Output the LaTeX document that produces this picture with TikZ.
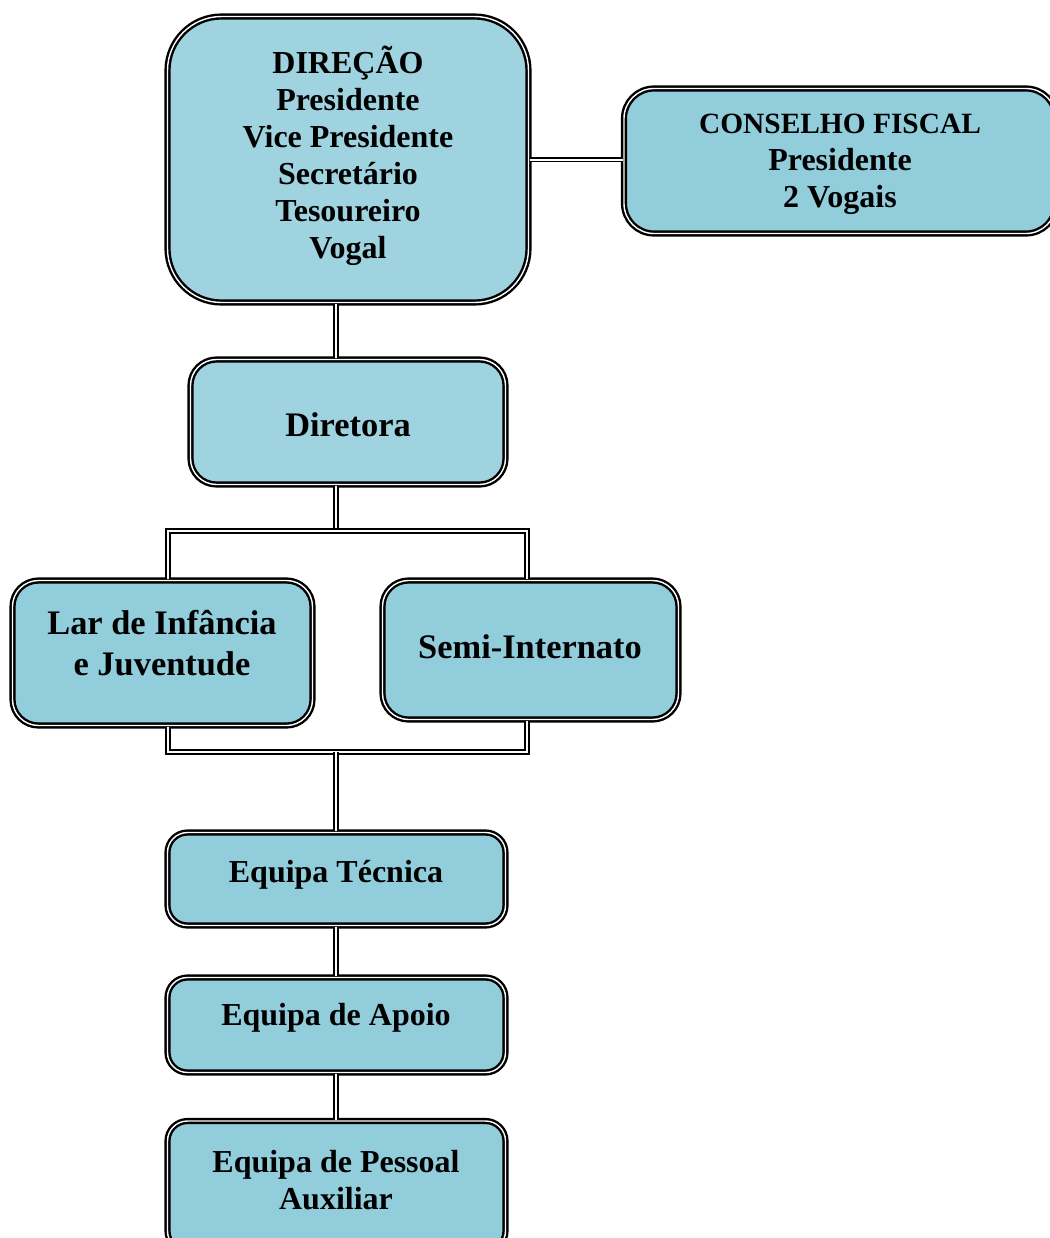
\documentclass[tikz,border=0pt]{standalone}
\usepackage{fontspec}
\setmainfont{Liberation Serif}
\usetikzlibrary{calc}

\definecolor{boxblue}{HTML}{92CDDC}
\definecolor{boxlight}{HTML}{9ED3DF}

\begin{document}
\begin{tikzpicture}[x=0.5pt, y=-0.5pt,
  box/.style={draw, double=white, double distance=0.7pt, line width=1.2pt, fill=boxblue, rectangle, inner sep=0pt},
  link/.style={draw, double=white, double distance=1pt, line width=0.9pt},
  txt/.style={font=\bfseries\fontsize{16}{18.5}\selectfont, align=center},
  bigtxt/.style={font=\bfseries\fontsize{17.2}{20.5}\selectfont, align=center}]
\clip (0,0) rectangle (1050,1238);
\coordinate (spine) at (336,0);
\coordinate (larx) at (168,0);
\coordinate (semix) at (527,0);
\coordinate (topbus) at (336,531);
\coordinate (botbus) at (336,752);

\node[box, fill=boxlight, minimum width=180.5pt, minimum height=143pt, rounded corners=27pt] (direcao) at (348,159.5) {};
\node[txt] (direcaotxt) at (348,155.5) {DIREÇÃO\\Presidente\\Vice Presidente\\Secretário\\Tesoureiro\\Vogal};
\node[box, minimum width=216pt, minimum height=72.5pt, rounded corners=15pt] (conselho) at (840,161) {};
\node[txt] (conselhotxt) at (840,164) {{\fontsize{14.7}{18}\selectfont CONSELHO FISCAL}\\Presidente\\2 Vogais};
\node[box, fill=boxlight, minimum width=157.5pt, minimum height=62.5pt, rounded corners=13pt] (diretora) at (348,422) {};
\node[bigtxt] (diretoratxt) at (348,425) {Diretora};
\node[box, minimum width=150pt, minimum height=72.5pt, rounded corners=13pt] (lar) at (162.5,653) {};
\node[bigtxt] (lartxt) at (162,643.5) {Lar de Infância\\e Juventude};
\node[box, minimum width=148pt, minimum height=69.5pt, rounded corners=13pt] (semi) at (530.5,650) {};
\node[bigtxt] (semitxt) at (530,647) {Semi-Internato};
\node[box, minimum width=169pt, minimum height=46.5pt, rounded corners=10pt] (tecnica) at (336.5,879) {};
\node[txt] (tecnicatxt) at (336,875) {Equipa Técnica};
\node[box, minimum width=169pt, minimum height=47.5pt, rounded corners=10pt] (apoio) at (336.5,1025) {};
\node[txt] (apoiotxt) at (336,1018) {Equipa de Apoio};
\node[box, minimum width=169pt, minimum height=65pt, rounded corners=10pt] (pessoal) at (336.5,1186) {};
\node[txt] (pessoaltxt) at (336,1180) {Equipa de Pessoal\\Auxiliar};

% ligacoes
\draw[link] (direcao.east) -- (direcao.east -| conselho.west);
\draw[link] (direcao.south -| spine) -- (diretora.north -| spine);
\draw[link] (diretora.south -| spine) -- (topbus);
\draw[link] (lar.north -| larx) -- (larx |- topbus) -- (semix |- topbus) -- (semi.north -| semix);
\draw[link] (lar.south -| larx) -- (larx |- botbus) -- (semix |- botbus) -- (semi.south -| semix);
\draw[link] (botbus) -- (tecnica.north -| spine);
\draw[link] (tecnica.south -| spine) -- (apoio.north -| spine);
\draw[link] (apoio.south -| spine) -- (pessoal.north -| spine);
\end{tikzpicture}
\end{document}
